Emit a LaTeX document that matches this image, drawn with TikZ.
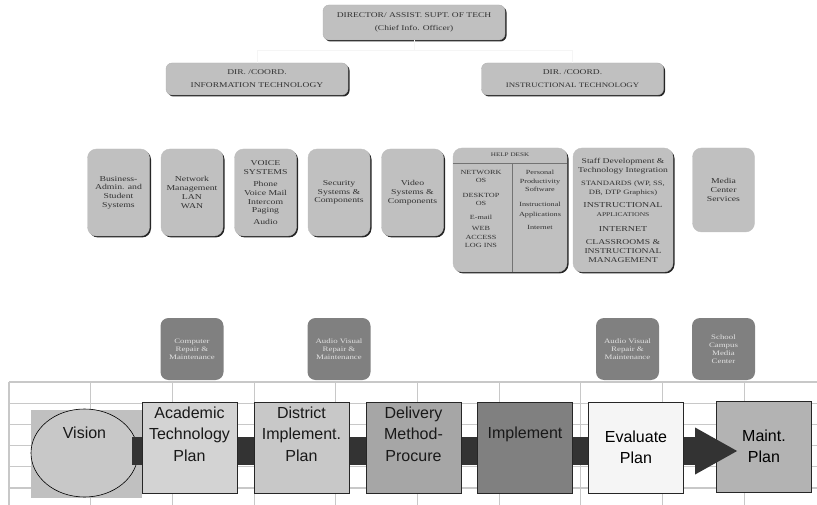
\documentclass[tikz,border=0pt]{standalone}
\usepackage{fontspec}
\setmainfont{Liberation Sans}
\newfontfamily\orgfont[FakeStretch=1.3]{Liberation Serif}
\usepackage{tikz}
\usetikzlibrary{arrows.meta,shapes,positioning,shadows}
\usepackage{xcolor}
\definecolor{dfgrid}{RGB}{200,200,200}
\definecolor{dfsilver}{RGB}{192,192,192}
\definecolor{dftext}{RGB}{50,50,50}
\definecolor{dfservice}{RGB}{128,128,128}
\definecolor{dfpale}{RGB}{225,225,225}
\definecolor{dfband}{RGB}{51,51,51}
\definecolor{dfvisionbg}{RGB}{192,192,192}
\definecolor{dfvision}{RGB}{200,200,200}
\definecolor{dfacad}{RGB}{211,211,211}
\definecolor{dfdistrict}{RGB}{200,200,200}
\definecolor{dfdelivery}{RGB}{166,166,166}
\definecolor{dfimpl}{RGB}{128,128,128}
\definecolor{dfeval}{RGB}{245,245,245}
\definecolor{dfmaint}{RGB}{179,179,179}
\tikzstyle{gridline} = [draw=dfgrid, line width=1.1pt]
\tikzstyle{faintline} = [draw=black!4, line width=0.6pt]
\tikzstyle{orgbox} = [rectangle, rounded corners=6pt, minimum width=182pt, fill=dfsilver, draw=black!30, text=dftext, align=center, inner sep=1pt, font=\orgfont\fontsize{7.3}{13}\selectfont, drop shadow={shadow xshift=1.5pt, shadow yshift=-1.5pt, fill=black, opacity=0.85}]
\tikzstyle{plainbox} = [rectangle, rounded corners=9pt, minimum width=62pt, minimum height=87pt, fill=dfsilver, draw=black!25, text=dftext, align=center, inner sep=1pt, font=\orgfont\fontsize{7.5}{8.7}\selectfont]
\tikzstyle{unitbox} = [plainbox, drop shadow={shadow xshift=1.5pt, shadow yshift=-1.5pt, fill=black, opacity=0.85}]
\tikzstyle{hdtext} = [text=dftext, align=center, inner sep=0pt, font=\orgfont\fontsize{6.3}{8.5}\selectfont]
\tikzstyle{divider} = [draw=black!55, line width=0.6pt]
\tikzstyle{servbox} = [rectangle, rounded corners=8pt, minimum width=63pt, minimum height=62pt, fill=dfservice, text=dfpale, align=center, inner sep=1pt, font=\orgfont\fontsize{6.8}{7.8}\selectfont]
\tikzstyle{procbox} = [rectangle, minimum width=95pt, minimum height=91pt, draw=black!85, line width=0.8pt, align=center, font=\fontsize{16}{21.5}\selectfont]
\tikzstyle{proctext} = [align=center, inner sep=0pt, text=black!90, font=\fontsize{16}{21.5}\selectfont]
\tikzstyle{flowband} = [draw=dfband, line width=28pt, -{Triangle[length=42pt, width=47pt, line width=0pt]}]

\begin{document}
\begin{tikzpicture}[x=1pt, y=-1pt, node distance=73.5pt]
\useasboundingbox (0,0) rectangle (817,505);

% Grid behind the planning cycle
\foreach \gx in {0,...,9}
  \draw[gridline] (9+81.7*\gx,382) -- (9+81.7*\gx,505);
\foreach \gy in {0,...,5}
  \draw[gridline] (9,382+21.2*\gy) -- (817,382+21.2*\gy);

% Director level
\node (cio) [orgbox, minimum height=35pt] at (414,22.5) {DIRECTOR/ ASSIST. SUPT. OF TECH\\(Chief Info. Officer)};
\node (dirit) [orgbox, minimum height=32pt] at (257,79) {DIR. /COORD.\\INFORMATION TECHNOLOGY};
\node (dirins) [orgbox, minimum height=32pt] at (572.5,79) {DIR. /COORD.\\{\fontsize{6.8}{13}\selectfont INSTRUCTIONAL TECHNOLOGY}};
\draw[faintline] (cio.south) -- ++(0,10) -| (dirit.north);
\draw[faintline] (cio.south) -- ++(0,10) -| (dirins.north);

% Information technology units
\node (bizsys) [unitbox] at (118.5,192.5) {Business-\\Admin. and\\Student\\Systems};
\node (netmgmt) [unitbox, right of=bizsys] {Network\\Management\\LAN\\WAN};
\node (voice) [unitbox, right of=netmgmt] {VOICE\\SYSTEMS\\[4pt]Phone\\Voice Mail\\Intercom\\Paging\\[3pt]Audio};
\node (security) [unitbox, right of=voice] {Security\\Systems \&\\Components};
\node (video) [unitbox, right of=security] {Video\\Systems \&\\Components};

% Instructional technology units
\node (helpdesk) [unitbox, minimum width=114pt, minimum height=124pt] at (510,210) {};
\node (hdhead) [hdtext, font=\orgfont\fontsize{5.5}{7}\selectfont] at (510,155) {HELP DESK};
\draw[divider] ([yshift=-16pt]helpdesk.north west) -- ([yshift=-16pt]helpdesk.north east);
\draw[divider] ([xshift=2pt, yshift=-16pt]helpdesk.north) -- ([xshift=2pt]helpdesk.south);
\node (hdleft) [hdtext, anchor=north] at (481,170) {NETWORK\\OS\\[6pt]DESKTOP\\OS\\[5pt]E-mail\\[3pt]WEB\\ACCESS\\LOG INS};
\node (hdright) [hdtext, anchor=north] at (540,170) {Personal\\Productivity\\Software\\[6pt]Instructional\\[1.5pt]Applications\\[4.5pt]Internet};

\node (staffdev) [unitbox, minimum width=100pt, minimum height=124pt, font=\orgfont\fontsize{6.6}{9}\selectfont] at (623,210) {{\fontsize{7.4}{9}\selectfont Staff Development \&}\\{\fontsize{7.4}{9}\selectfont Technology Integration}\\[4pt]STANDARDS (WP, SS,\\DB, DTP Graphics)\\[4pt]{\fontsize{7.6}{9}\selectfont INSTRUCTIONAL}\\{\fontsize{5.8}{8}\selectfont APPLICATIONS}\\[6pt]{\fontsize{7.6}{9}\selectfont INTERNET}\\[4pt]{\fontsize{7.4}{9}\selectfont CLASSROOMS \&}\\{\fontsize{7.4}{9}\selectfont INSTRUCTIONAL}\\{\fontsize{7.4}{9}\selectfont MANAGEMENT}};
\node (media) [plainbox, minimum height=84pt] at (723.5,190) {Media\\Center\\Services};

% Service groups
\node (comprep) [servbox, below of=netmgmt, node distance=156.5pt] {Computer\\Repair \&\\Maintenance};
\node (avrep) [servbox, below of=security, node distance=156.5pt] {Audio Visual\\Repair \&\\Maintenance};
\node (avmaint) [servbox] at (627.5,349) {Audio Visual\\Repair \&\\Maintenance};
\node (campus) [servbox, below of=media, node distance=159pt] {School\\Campus\\Media\\Center};

% Planning cycle
\node (visionbg) [rectangle, fill=dfvisionbg, minimum width=111pt, minimum height=88pt] at (86.5,454) {};
\node (vision) [ellipse, draw=black, line width=0.6pt, fill=dfvision, minimum width=107pt, minimum height=88pt] at (84.5,453) {};
\node (visiontxt) [proctext] at (84.5,433) {Vision};
\node (maint) [procbox, fill=dfmaint] at (764,446.5) {Maint.\\Plan};

\coordinate (bandstart) at ([xshift=-6pt, yshift=2pt]vision.east);
\coordinate (bandend) at ([xshift=21pt, yshift=-4.5pt]maint.west);
\draw[flowband] (bandstart) -- (bandend);

\node (acad) [procbox, fill=dfacad] at (189.5,447.5) {};
\node (acadtxt) [proctext, below=5pt of acad.north] {Academic\\Technology\\Plan};
\node (district) [procbox, fill=dfdistrict, right of=acad, node distance=112pt] {};
\node (districttxt) [proctext, below=5pt of district.north] {District\\Implement.\\Plan};
\node (delivery) [procbox, fill=dfdelivery, right of=district, node distance=112pt] {};
\node (deliverytxt) [proctext, below=5pt of delivery.north] {Delivery\\Method-\\Procure};
\node (impl) [procbox, fill=dfimpl, right of=delivery, node distance=111.5pt] {};
\node (impltxt) [proctext, below=25pt of impl.north] {Implement};
\node (evaluate) [procbox, fill=dfeval, right of=impl, node distance=111pt] {Evaluate\\Plan};
\end{tikzpicture}
\end{document}
